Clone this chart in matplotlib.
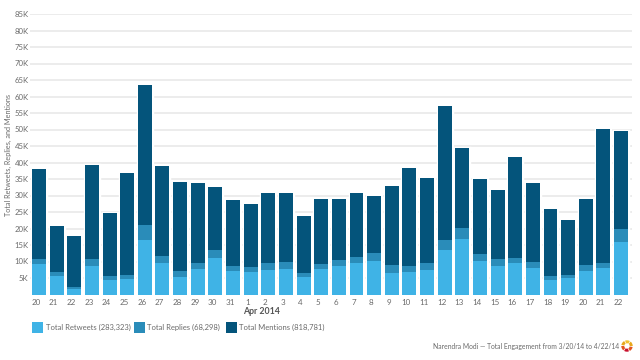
import matplotlib
matplotlib.use('Agg')
import matplotlib.pyplot as plt
from matplotlib.patches import Rectangle, Wedge
from matplotlib.transforms import ScaledTranslation

plt.rcParams['font.family'] = ['Lato', 'DejaVu Sans']

# dates along the x axis
days = ['20', '21', '22', '23', '24', '25', '26', '27', '28', '29', '30', '31',
        '1', '2', '3', '4', '5', '6', '7', '8', '9', '10', '11', '12', '13',
        '14', '15', '16', '17', '18', '19', '20', '21', '22']

# values in thousands
retweets = [9.1, 5.6, 1.8, 8.5, 4.3, 4.7, 16.5, 9.6, 5.3, 7.8, 11.2, 7.2,
            6.9, 7.5, 7.8, 5.4, 7.7, 8.5, 9.6, 10.3, 6.6, 6.9, 7.5, 13.5, 16.7,
            10.1, 8.7, 9.4, 8.0, 4.4, 4.9, 7.1, 8.0, 15.8]
replies = [1.8, 1.1, 0.6, 2.3, 1.3, 1.2, 4.6, 2.1, 1.7, 1.8, 2.2, 1.5,
           1.5, 2.1, 2.0, 1.2, 1.6, 1.9, 1.8, 2.3, 2.3, 1.6, 1.9, 3.0, 3.5,
           2.1, 2.2, 1.8, 1.9, 1.2, 1.1, 1.8, 1.6, 3.9]
mentions = [27.1, 14.2, 15.2, 28.4, 19.1, 30.9, 42.5, 27.3, 27.2, 24.3, 19.3, 19.9,
            19.1, 21.1, 21.1, 17.3, 19.7, 18.4, 19.5, 17.3, 24.1, 29.7, 25.8, 40.6, 24.3,
            22.8, 20.9, 30.5, 24.0, 20.2, 16.7, 20.1, 40.5, 29.9]

y_ticks = list(range(5, 90, 5))
legend_labels = ['Total Retweets (283,323)', 'Total Replies (68,298)', 'Total Mentions (818,781)']

c_retweets = '#3fb3e6'
c_replies = '#2a8cb9'
c_mentions = '#04547b'
text_col = '#6a6a6a'

fig = plt.figure(figsize=(6.4, 3.6), dpi=100)
ax = fig.add_axes([30 / 640, 1 - 294.5 / 360, 602 / 640, 280.5 / 360])

x = list(range(len(days)))
bottom2 = [a + b for a, b in zip(retweets, replies)]
totals = [a + b for a, b in zip(bottom2, mentions)]

# white backing so the grid stops just short of each bar
ax.bar(x, totals, width=0.79, color='white', edgecolor='white', linewidth=2.5, zorder=2)
for vals, base, col in [(retweets, None, c_retweets), (replies, retweets, c_replies), (mentions, bottom2, c_mentions)]:
    ax.bar(x, vals, width=0.79, bottom=base, color=col, linewidth=0, zorder=3)

ax.set_xlim(-0.51, 33.62)
ax.set_ylim(0, 85)
ax.set_yticks(y_ticks)
ax.set_yticklabels([f'{t}K' for t in y_ticks], fontsize=5.6, color=text_col)
ax.set_xticks(x)
ax.set_xticklabels(days, fontsize=5.8, color=text_col)
ax.tick_params(length=0, pad=1)
ax.tick_params(axis='x', pad=3)
ax.grid(axis='y', color='#e9e9e9', linewidth=1.2, zorder=0)
ax.set_axisbelow(True)
for s in ax.spines.values():
    s.set_visible(False)

# day labels sit a bit left of the bar centres
shift = ScaledTranslation(-3 / 100, 0, fig.dpi_scale_trans)
for lab in ax.get_xticklabels():
    lab.set_transform(lab.get_transform() + shift)

fig.text(8 / 640, 1 - 154.5 / 360, 'Total Retweets, Replies, and Mentions', rotation=90,
         fontsize=5.2, color=text_col, ha='center', va='center')
fig.text(261 / 640, 1 - 311 / 360, 'Apr 2014', fontsize=6.3, fontweight='bold', color='#555555',
         ha='center', va='center')

# legend, placed by hand
for px, label, col in zip([32, 133.5, 225.5], legend_labels, [c_retweets, c_replies, c_mentions]):
    fig.patches.append(Rectangle((px / 640, 1 - 333 / 360), 11 / 640, 11 / 360,
                                 transform=fig.transFigure, facecolor=col, linewidth=0))
    fig.text((px + 13.5) / 640, 1 - 327.5 / 360, label, fontsize=5.5, color=text_col, va='center')

fig.text(619 / 640, 1 - 346 / 360, 'Narendra Modi — Total Engagement from 3/20/14 to 4/22/14',
         fontsize=4.9, color=text_col, ha='right', va='center')

# little logo bottom right
logo_ax = fig.add_axes([621 / 640, 1 - 352 / 360, 12 / 640, 12 / 360])
logo_ax.set_xlim(-1, 1)
logo_ax.set_ylim(-1, 1)
logo_ax.axis('off')
for start, col in zip(range(0, 360, 60), ['#e8a81c', '#f2c230', '#e8a81c', '#e2541f', '#c8102e', '#e2541f']):
    logo_ax.add_patch(Wedge((0, 0), 0.95, start, start + 50, width=0.5, facecolor=col, linewidth=0))

fig.savefig('out.png', dpi=100)
